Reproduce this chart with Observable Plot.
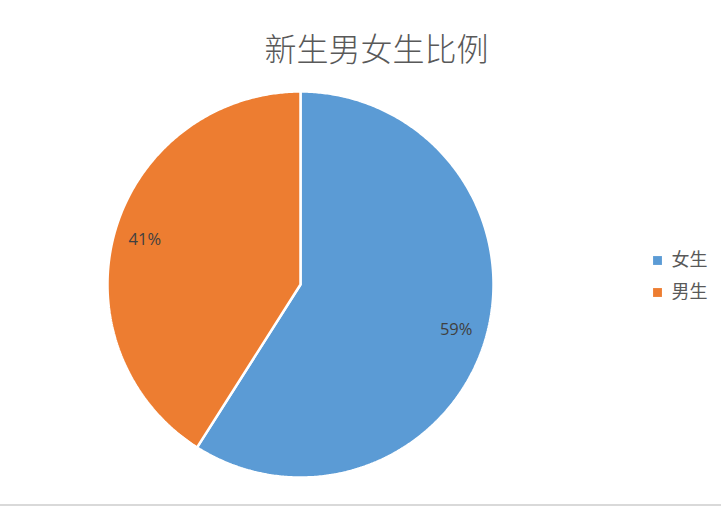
<!DOCTYPE html>
<html>
<head>
<meta charset="utf-8">
<script src="https://cdn.jsdelivr.net/npm/d3@7"></script>
<script src="https://cdn.jsdelivr.net/npm/@observablehq/plot@0.6"></script>
<style>
  html, body { margin: 0; padding: 0; background: #fff; }
  #chart { width: 721px; border-bottom: 2px solid #d9d9d9; }
  #chart svg { display: block; }
</style>
</head>
<body>
<div id="chart"></div>
<script>
const title = "新生男女生比例";
const categories = ["女生", "男生"];
const values = [59, 41];
const labels = ["59%", "41%"];
const colors = ["#5B9BD5", "#ED7D31"];

const total = d3.sum(values);
const points = [];
const labelData = [];
let acc = 0;
categories.forEach((c, i) => {
  const a0 = acc / total * 2 * Math.PI;
  acc += values[i];
  const a1 = acc / total * 2 * Math.PI;
  points.push({cat: c, x: 0, y: 0});
  const n = Math.max(2, Math.ceil((a1 - a0) / (Math.PI / 360)));
  for (let k = 0; k <= n; k++) {
    const a = a0 + (a1 - a0) * k / n;
    points.push({cat: c, x: Math.sin(a), y: Math.cos(a)});
  }
  points.push({cat: c, x: 0, y: 0});
  const am = (a0 + a1) / 2;
  labelData.push({cat: c, text: labels[i], x: 0.84 * Math.sin(am), y: 0.84 * Math.cos(am)});
});

const legendMarks = categories.flatMap((c, i) => [
  Plot.dot([c], {frameAnchor: "right", dx: 164, dy: -24 + i * 32, symbol: "square", r: 5, fill: d => d, stroke: null}),
  Plot.text([c], {frameAnchor: "right", dx: 178, dy: -24 + i * 32, text: d => d, textAnchor: "start", fontSize: 18, fill: "#595959"})
]);

const chart = Plot.plot({
  width: 721,
  height: 504,
  marginLeft: 107,
  marginRight: 228,
  marginTop: 91,
  marginBottom: 27,
  style: {fontFamily: "'Noto Sans CJK SC', 'Open Sans', sans-serif", background: "#fff"},
  x: {domain: [-1, 1], axis: null},
  y: {domain: [-1, 1], axis: null},
  color: {domain: categories, range: colors},
  marks: [
    Plot.line(points, {x: "x", y: "y", z: "cat", fill: "cat", stroke: "white", strokeWidth: 2.5, strokeLinejoin: "miter", curve: "linear"}),
    Plot.text(labelData, {x: "x", y: "y", text: "text", fill: "#404040", fontSize: 16.5, fontFamily: "'Open Sans', sans-serif"}),
    Plot.text([title], {frameAnchor: "top", dx: 76, dy: -53, text: d => d, fontSize: 32, fontWeight: 300, fill: "#595959"}),
    ...legendMarks
  ]
});
document.getElementById("chart").appendChild(chart);
</script>
</body>
</html>
